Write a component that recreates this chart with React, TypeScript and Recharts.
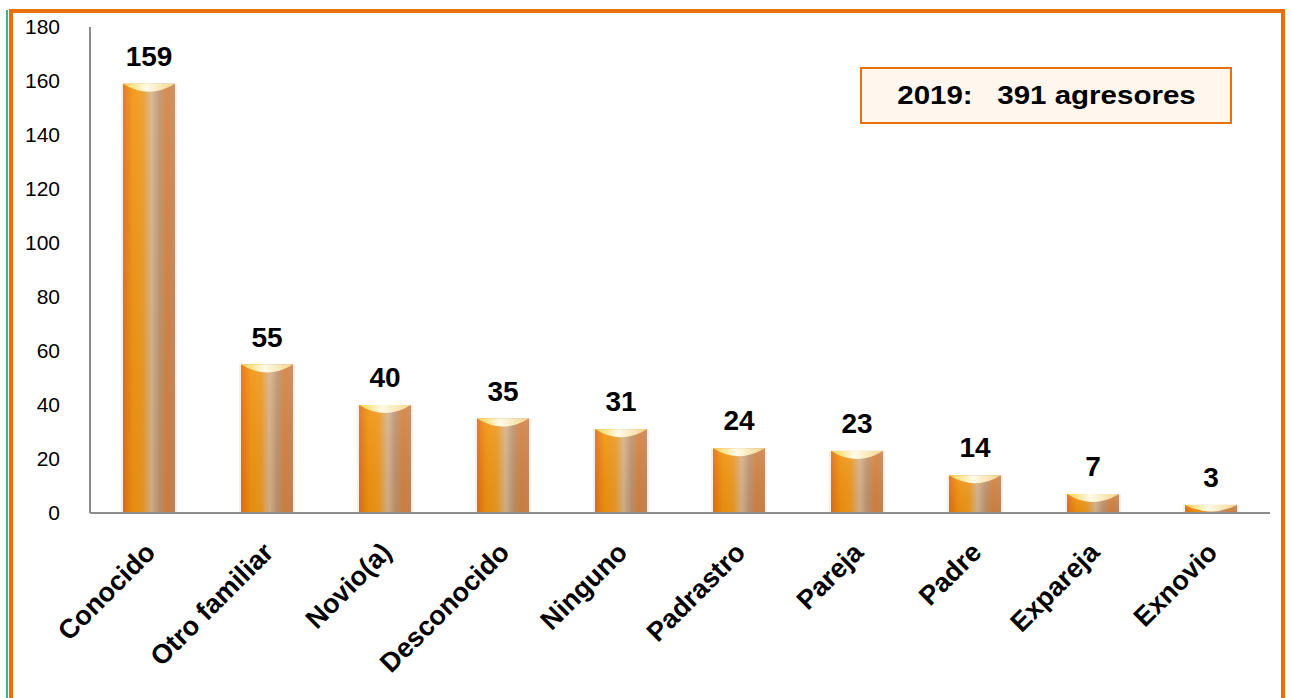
import React from 'react';
import { BarChart, Bar, XAxis, YAxis, LabelList } from 'recharts';

const categories = ['Conocido', 'Otro familiar', 'Novio(a)', 'Desconocido', 'Ninguno', 'Padrastro', 'Pareja', 'Padre', 'Expareja', 'Exnovio'];
const values = [159, 55, 40, 35, 31, 24, 23, 14, 7, 3];
const yTicks = [0, 20, 40, 60, 80, 100, 120, 140, 160, 180];

const data = categories.map((name, i) => ({ name, value: values[i] }));

const FONT = 'Arial, "Liberation Sans", Helvetica, sans-serif';

const CylinderBar = (props: any) => {
  const { x, y, width, height } = props;
  if (!height || height <= 0) return null;
  const capH = Math.min(10, height);
  return (
    <g>
      <rect x={x - 2} y={y} width={width + 4} height={height} fill="#FBE3CF" opacity={0.6} />
      <rect x={x} y={y} width={width} height={height} fill="url(#woodGrad)" />
      <rect x={x} y={y} width={width} height={height} fill="url(#shadeGrad)" />
      <path
        d={`M${x},${y} L${x + width},${y} Q${x + width / 2},${y + capH * 1.6} ${x},${y} Z`}
        fill="url(#capGrad)"
      />
    </g>
  );
};

const XTick = (props: any) => {
  const { x, y, payload } = props;
  return (
    <g transform={`translate(${x + 8},${y + 33})`}>
      <text
        transform="rotate(-45)"
        textAnchor="end"
        fontFamily={FONT}
        fontWeight="bold"
        fontSize={27}
        fill="#000"
      >
        {payload.value}
      </text>
    </g>
  );
};

const App: React.FC = () => {
  return (
    <div style={{ position: 'absolute', left: 0, top: 0, width: 1291, height: 698, background: '#fff', overflow: 'hidden' }}>
      <div style={{ position: 'absolute', left: 6, top: 10, width: 2, height: 700, background: '#3CB878' }} />
      <div
        style={{
          position: 'absolute',
          left: 9,
          top: 9,
          width: 1276,
          height: 720,
          border: '4px solid #E8700A',
          boxSizing: 'border-box',
        }}
      />
      <div style={{ position: 'absolute', left: 0, top: 0 }}>
        <BarChart width={1291} height={698} data={data} margin={{ top: 27, right: 21, left: 0, bottom: 0 }} barCategoryGap={0}>
          <defs>
            <linearGradient id="woodGrad" x1="0" y1="0" x2="1" y2="0">
              <stop offset="0%" stopColor="#E2701E" />
              <stop offset="18%" stopColor="#F2930C" />
              <stop offset="38%" stopColor="#EE9A22" />
              <stop offset="55%" stopColor="#D9B48C" />
              <stop offset="70%" stopColor="#BE9470" />
              <stop offset="85%" stopColor="#D6823E" />
              <stop offset="100%" stopColor="#C9885C" />
            </linearGradient>
            <linearGradient id="shadeGrad" x1="0" y1="0" x2="0" y2="1">
              <stop offset="0%" stopColor="#FFFFFF" stopOpacity={0.08} />
              <stop offset="100%" stopColor="#000000" stopOpacity={0.05} />
            </linearGradient>
            <linearGradient id="capGrad" x1="0" y1="0" x2="1" y2="0">
              <stop offset="0%" stopColor="#F7D24A" />
              <stop offset="45%" stopColor="#FFFBE8" />
              <stop offset="100%" stopColor="#F3D58A" />
            </linearGradient>
          </defs>
          <XAxis
            dataKey="name"
            height={185}
            interval={0}
            tickLine={false}
            axisLine={{ stroke: '#8C8C8C', strokeWidth: 2 }}
            tick={<XTick />}
          />
          <YAxis
            width={90}
            domain={[0, 180]}
            ticks={yTicks}
            interval={0}
            tickLine={false}
            tickMargin={24}
            axisLine={{ stroke: '#8C8C8C', strokeWidth: 2 }}
            tick={{ fontFamily: FONT, fontSize: 21, fill: '#000' }}
          />
          <Bar dataKey="value" barSize={52} isAnimationActive={false} shape={<CylinderBar />}>
            <LabelList
              dataKey="value"
              position="top"
              offset={18}
              style={{ fontFamily: FONT, fontWeight: 'bold', fontSize: 28, fill: '#000' }}
            />
          </Bar>
        </BarChart>
      </div>
      <div
        style={{
          position: 'absolute',
          left: 860,
          top: 67,
          width: 372,
          height: 57,
          boxSizing: 'border-box',
          border: '2px solid #E8700A',
          background: '#FFF6EE',
          display: 'flex',
          alignItems: 'center',
          justifyContent: 'center',
        }}
      >
        <span
          style={{
            fontFamily: FONT,
            fontWeight: 'bold',
            fontSize: 25,
            color: '#000',
            whiteSpace: 'pre',
            display: 'inline-block',
            transform: 'scaleX(1.18)',
          }}
        >
          {'2019:   391 agresores'}
        </span>
      </div>
    </div>
  );
};

export default App;
